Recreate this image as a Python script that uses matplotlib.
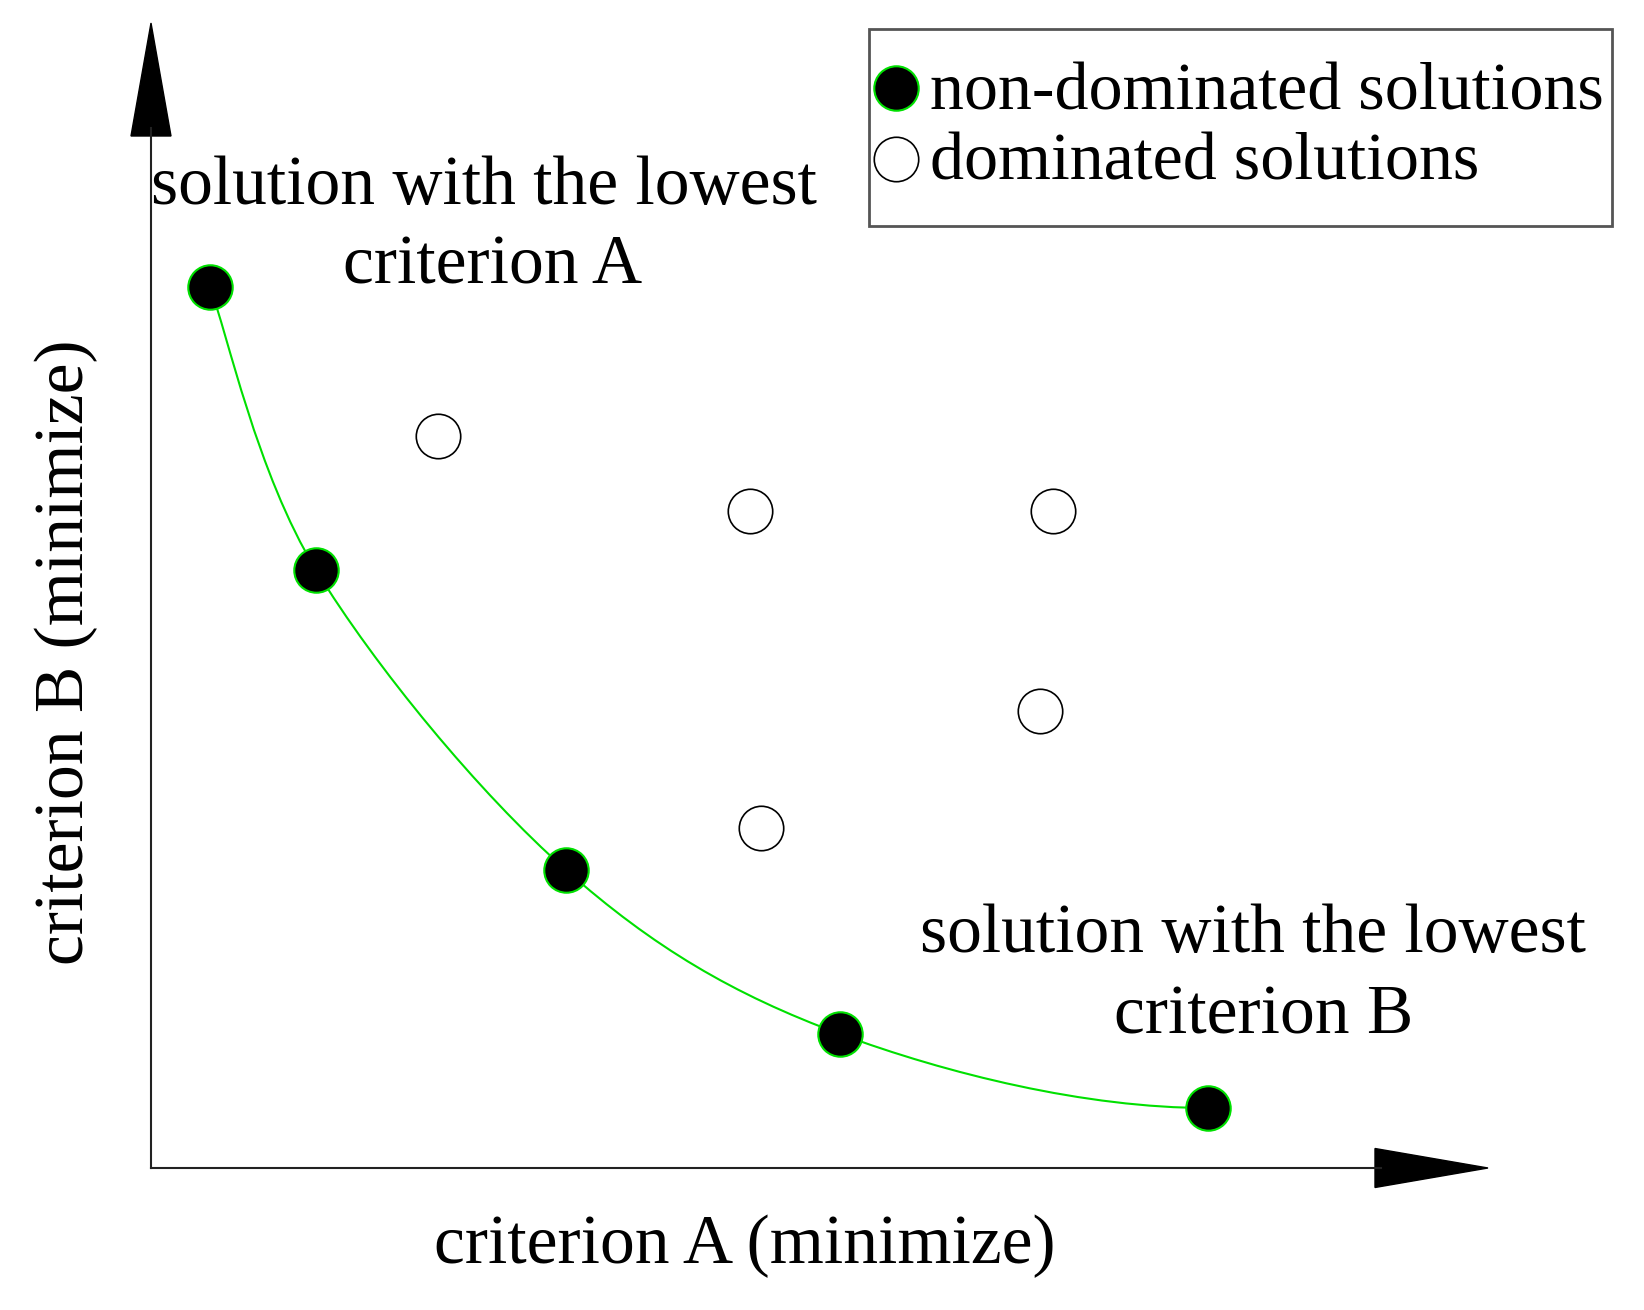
import numpy as np
import matplotlib.pyplot as plt
from matplotlib.path import Path
from matplotlib.patches import PathPatch, Polygon, Rectangle
from matplotlib.lines import Line2D

# values (arbitrary units, both axes share the same scale)
front_a = [0.59, 1.65, 4.15, 6.89, 10.57]
front_b = [8.81, 5.98, 2.98, 1.34, 0.60]
dom_a = [2.87, 5.99, 9.02, 8.89, 6.10]
dom_b = [7.32, 6.57, 6.57, 4.57, 3.40]

W, H = 1644, 1310
FONT = "Liberation Serif"
FS = 50
GREEN = "#00e000"


def px(x, y):
    """full-size pixel position -> figure fraction"""
    return x / W, 1 - y / H


fig = plt.figure(figsize=(W / 100, H / 100), dpi=100)
ax = fig.add_axes([151 / W, 142 / H, 1337 / W, 1145 / H])
ax.set_xlim(0, 13.37)
ax.set_ylim(0, 11.45)
ax.axis("off")

# axes with arrow heads
ax.plot([0, 12.3], [0, 0], color="#222222", lw=1.5, clip_on=False)
ax.plot([0, 0], [0, 10.4], color="#222222", lw=1.5, clip_on=False)
ax.add_patch(Polygon([[12.24, -0.195], [12.24, 0.195], [13.37, 0]], closed=True,
                     color="black", clip_on=False))
ax.add_patch(Polygon([[-0.2, 10.32], [0.2, 10.32], [0, 11.45]], closed=True,
                     color="black", clip_on=False))

# smooth front through the non-dominated points (catmull-rom as bezier,
# flattening out at the last point)
pts = np.column_stack([front_a, front_b])
verts = [pts[0]]
codes = [Path.MOVETO]
n = len(pts)
for i in range(n - 1):
    p_prev = pts[max(i - 1, 0)]
    p0, p1 = pts[i], pts[i + 1]
    c1 = p0 + (p1 - p_prev) / 6
    if i + 2 < n:
        c2 = p1 - (pts[i + 2] - p0) / 6
    else:
        c2 = p1 - np.array([(p1[0] - p0[0]) / 3, 0.0])
    verts += [c1, c2, p1]
    codes += [Path.CURVE4] * 3
ax.add_patch(PathPatch(Path(verts, codes), facecolor="none", edgecolor=GREEN,
                       lw=1.5, zorder=2))

ax.plot(front_a, front_b, "o", ms=32, mfc="black", mec=GREEN, mew=1.5,
        zorder=3, clip_on=False)
ax.plot(dom_a, dom_b, "o", ms=32, mfc="white", mec="black", mew=1.2,
        zorder=3, clip_on=False)

# annotations
fig.text(*px(484, 204), "solution with the lowest", ha="center",
         va="baseline", family=FONT, fontsize=FS)
fig.text(*px(493, 283), "criterion A", ha="center",
         va="baseline", family=FONT, fontsize=FS)
fig.text(*px(1253, 952), "solution with the lowest", ha="center", va="baseline",
         family=FONT, fontsize=FS)
fig.text(*px(1264, 1033), "criterion B", ha="center", va="baseline",
         family=FONT, fontsize=FS)
fig.text(*px(745, 1263), "criterion A (minimize)", ha="center", va="baseline",
         family=FONT, fontsize=FS)
fig.text(*px(66, 652), "criterion B (minimize)", ha="center", va="center",
         rotation=90, family=FONT, fontsize=FS)

# legend box
x0, y0 = px(869, 226)
x1, y1 = px(1612, 29)
fig.add_artist(Rectangle((x0, y0), x1 - x0, y1 - y0, transform=fig.transFigure,
                         facecolor="white", edgecolor="#555555", lw=2))
fig.add_artist(Line2D([px(896, 88)[0]], [px(896, 88)[1]], marker="o", ms=32,
                      mfc="black", mec=GREEN, mew=1.5, transform=fig.transFigure))
fig.add_artist(Line2D([px(896, 159)[0]], [px(896, 159)[1]], marker="o", ms=32,
                      mfc="white", mec="black", mew=1.2, transform=fig.transFigure))
fig.text(*px(930, 109), "non-dominated solutions", ha="left", va="baseline",
         family=FONT, fontsize=49)
fig.text(*px(930, 180), "dominated solutions", ha="left", va="baseline",
         family=FONT, fontsize=49)

fig.savefig("out.png", dpi=100, facecolor="white")
